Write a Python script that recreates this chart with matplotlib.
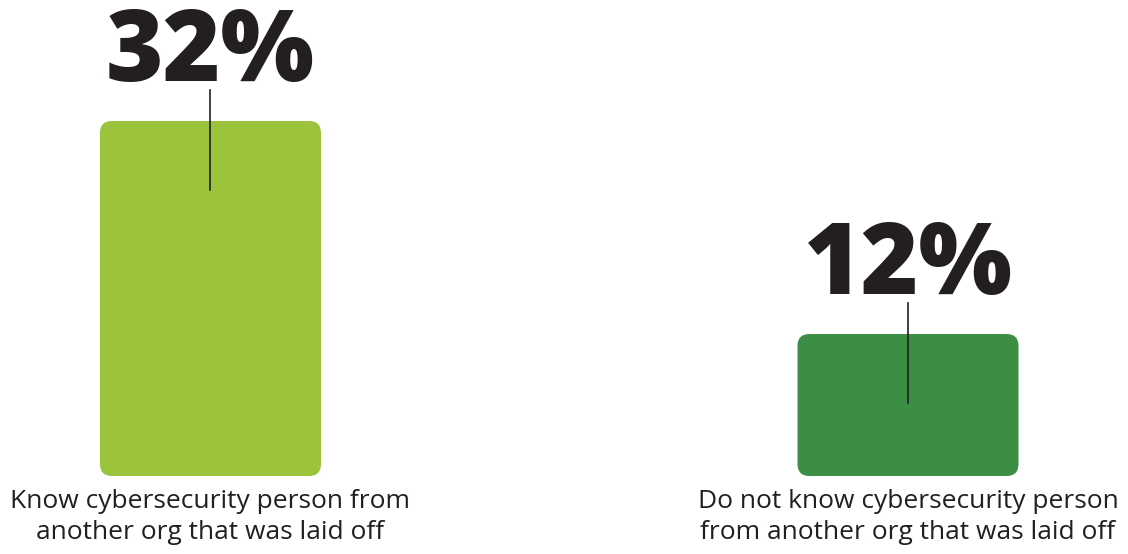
import matplotlib
matplotlib.use("Agg")
import matplotlib.pyplot as plt
from matplotlib.patches import FancyBboxPatch

categories = ["Know cybersecurity person from\nanother org that was laid off",
              "Do not know cybersecurity person\nfrom another org that was laid off"]
values = [32, 12]
labels = ["32%", "12%"]
colors = ["#9BC43C", "#3B8E44"]
text_color = "#231F20"

W, H = 1128, 554
fig = plt.figure(figsize=(W / 100, H / 100), dpi=100)
bottom_px, top_px = 476, 121
ymin = -1.33
ax = fig.add_axes([0, (H - bottom_px) / H, 1, (bottom_px - top_px) / H])
ax.set_ylim(ymin, 32)
c0, c1 = 210.5, 908
ppx = c1 - c0
xa = -c0 / ppx
ax.set_xlim(xa, xa + W / ppx)
ax.axis("off")

x = list(range(len(values)))
bw = 221 / ppx
bars = ax.bar(x, [v - ymin for v in values], bottom=ymin, width=bw, color="none")
ppy = (bottom_px - top_px) / (32.0 - ymin)  # px per y unit
r_px = 12
rx = r_px / ppx
aspect = (r_px / ppy) / rx
for b, col in zip(bars, colors):
    b.set_visible(False)
    p = FancyBboxPatch((b.get_x(), b.get_y()), b.get_width(), b.get_height(),
                       boxstyle=f"round,pad=0,rounding_size={rx}",
                       mutation_aspect=aspect, facecolor=col, edgecolor="none")
    ax.add_patch(p)

for xi, v, lab, cat in zip(x, values, labels, categories):
    ax.plot([xi, xi], [v - 69 / ppy, v + 31 / ppy], color=text_color, lw=1.2,
            clip_on=False, zorder=5)
    ax.annotate(lab, xy=(xi, v), xytext=(0, 40), textcoords="offset pixels",
                ha="center", va="baseline", fontsize=71, fontweight="heavy",
                family="Open Sans", color=text_color, annotation_clip=False)
    ax.annotate(cat, xy=(xi, ymin), xytext=(0, -13), textcoords="offset pixels",
                ha="center", va="top", fontsize=19, family="Open Sans",
                color=text_color, linespacing=1.3, annotation_clip=False)

fig.savefig("out.png", dpi=100)
